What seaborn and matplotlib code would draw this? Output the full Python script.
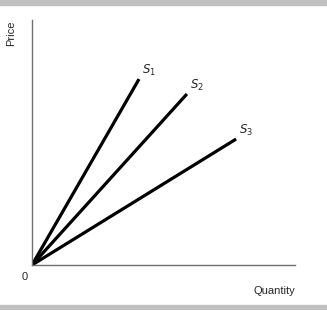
import matplotlib
matplotlib.use("Agg")
import matplotlib.pyplot as plt
import seaborn as sns
import pandas as pd
from matplotlib.patches import Rectangle

series = ["S1", "S2", "S3"]
labels = ["$S_1$", "$S_2$", "$S_3$"]
end_quantity = [4.07, 5.89, 7.76]
end_price = [7.59, 6.98, 5.14]

rows = []
for s, q, p in zip(series, end_quantity, end_price):
    rows.append({"curve": s, "Quantity": 0.0, "Price": 0.0})
    rows.append({"curve": s, "Quantity": q, "Price": p})
df = pd.DataFrame(rows)

sns.set_style("white")
plt.rcParams["font.family"] = ["Liberation Sans", "DejaVu Sans"]

fig = plt.figure(figsize=(3.27, 3.10), dpi=100)
fig.patches.append(Rectangle((0, 1 - 5/310), 1, 5/310, transform=fig.transFigure,
                             color="#c0c0c0", zorder=0))
fig.patches.append(Rectangle((0, 0), 1, 5/310, transform=fig.transFigure,
                             color="#c0c0c0", zorder=0))

ax = fig.add_axes([32/327, 45/310, 263/327, 245/310])
sns.lineplot(data=df, x="Quantity", y="Price", units="curve", estimator=None,
             color="black", linewidth=2.3, ax=ax, solid_capstyle="butt")
ax.set_xlim(0, 10)
ax.set_ylim(0, 10)
ax.set_xticks([])
ax.set_yticks([])
ax.set_xlabel("")
ax.set_ylabel("")
for side in ["top", "right"]:
    ax.spines[side].set_visible(False)
for side in ["left", "bottom"]:
    ax.spines[side].set_color("#707070")
    ax.spines[side].set_linewidth(1.0)

for lab, q, p in zip(labels, end_quantity, end_price):
    ax.text(q + 0.1, p + 0.05, lab, fontsize=8.5, ha="left", va="bottom")

fig.text(25/327, 1 - 277/310, "0", fontsize=8, ha="center", va="center")
fig.text(295/327, 1 - 291/310, "Quantity", fontsize=8, ha="right", va="center")
fig.text(11/327, 1 - 33/310, "Price", fontsize=8, ha="center", va="center", rotation=90)

fig.savefig("out.png", dpi=100)
